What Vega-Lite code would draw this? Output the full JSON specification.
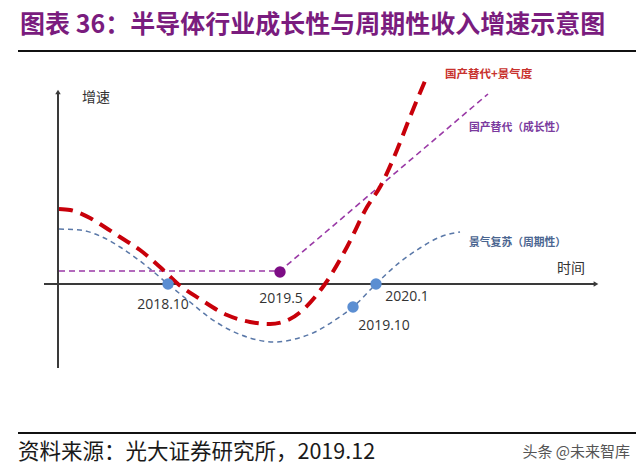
{
  "$schema": "https://vega.github.io/schema/vega-lite/v6.json",
  "width": 640,
  "height": 469,
  "padding": 0,
  "autosize": {"type": "none"},
  "background": "white",
  "config": {"view": {"stroke": null}, "font": "Noto Sans CJK SC"},
  "datasets": {
    "curves": [
      {"series": "景气复苏（周期性）", "t": 59, "g": 55},
      {"series": "景气复苏（周期性）", "t": 80, "g": 54},
      {"series": "景气复苏（周期性）", "t": 100, "g": 48},
      {"series": "景气复苏（周期性）", "t": 120, "g": 37},
      {"series": "景气复苏（周期性）", "t": 140, "g": 23},
      {"series": "景气复苏（周期性）", "t": 168, "g": 0},
      {"series": "景气复苏（周期性）", "t": 190, "g": -18},
      {"series": "景气复苏（周期性）", "t": 210, "g": -34},
      {"series": "景气复苏（周期性）", "t": 230, "g": -46},
      {"series": "景气复苏（周期性）", "t": 250, "g": -54},
      {"series": "景气复苏（周期性）", "t": 274, "g": -58},
      {"series": "景气复苏（周期性）", "t": 295, "g": -55},
      {"series": "景气复苏（周期性）", "t": 315, "g": -48},
      {"series": "景气复苏（周期性）", "t": 335, "g": -36},
      {"series": "景气复苏（周期性）", "t": 353, "g": -23},
      {"series": "景气复苏（周期性）", "t": 376, "g": 0},
      {"series": "景气复苏（周期性）", "t": 400, "g": 22},
      {"series": "景气复苏（周期性）", "t": 420, "g": 36},
      {"series": "景气复苏（周期性）", "t": 440, "g": 47},
      {"series": "景气复苏（周期性）", "t": 460, "g": 52},
      {"series": "国产替代+景气度", "t": 59, "g": 75},
      {"series": "国产替代+景气度", "t": 70, "g": 74},
      {"series": "国产替代+景气度", "t": 90, "g": 66},
      {"series": "国产替代+景气度", "t": 100, "g": 60},
      {"series": "国产替代+景气度", "t": 120, "g": 47},
      {"series": "国产替代+景气度", "t": 140, "g": 34},
      {"series": "国产替代+景气度", "t": 160, "g": 17},
      {"series": "国产替代+景气度", "t": 178, "g": 0},
      {"series": "国产替代+景气度", "t": 200, "g": -15},
      {"series": "国产替代+景气度", "t": 227, "g": -31},
      {"series": "国产替代+景气度", "t": 250, "g": -38},
      {"series": "国产替代+景气度", "t": 270, "g": -40},
      {"series": "国产替代+景气度", "t": 290, "g": -35},
      {"series": "国产替代+景气度", "t": 305, "g": -24},
      {"series": "国产替代+景气度", "t": 315, "g": -13},
      {"series": "国产替代+景气度", "t": 325, "g": 0},
      {"series": "国产替代+景气度", "t": 347, "g": 37},
      {"series": "国产替代+景气度", "t": 367, "g": 77},
      {"series": "国产替代+景气度", "t": 380, "g": 97},
      {"series": "国产替代+景气度", "t": 397, "g": 134},
      {"series": "国产替代+景气度", "t": 410, "g": 167},
      {"series": "国产替代+景气度", "t": 425, "g": 203},
      {"series": "国产替代（成长性）", "t": 59, "g": 13},
      {"series": "国产替代（成长性）", "t": 280, "g": 13},
      {"series": "国产替代（成长性）", "t": 488, "g": 190}
    ],
    "points": [
      {"series": "国产替代（成长性）", "t": 280, "g": 12},
      {"series": "景气复苏（周期性）", "t": 168, "g": 0},
      {"series": "景气复苏（周期性）", "t": 353, "g": -23},
      {"series": "景气复苏（周期性）", "t": 376, "g": 0}
    ],
    "frame": [
      {"kind": "axis", "t": 58, "g": -84, "t2": 58, "g2": 190},
      {"kind": "axis", "t": 44, "g": 0, "t2": 594, "g2": 0},
      {"kind": "sep", "t": 18, "g": 233, "t2": 636, "g2": 233},
      {"kind": "sep", "t": 18, "g": -149, "t2": 636, "g2": -149}
    ],
    "arrows": [
      {"dir": "up", "t": 58, "g": 192},
      {"dir": "right", "t": 596, "g": 0}
    ],
    "labels": [
      {"kind": "title", "text": "图表 36：半导体行业成长性与周期性收入增速示意图", "t": 20, "g": 259},
      {"kind": "source", "text": "资料来源：光大证券研究所，2019.12", "t": 18, "g": -169},
      {"kind": "mark", "text": "头条 @未来智库", "t": 630, "g": -168},
      {"kind": "axisname", "text": "增速", "t": 82, "g": 186},
      {"kind": "axisname", "text": "时间", "t": 557, "g": 15},
      {"kind": "date", "text": "2018.10", "t": 163, "g": -21},
      {"kind": "date", "text": "2019.5", "t": 281, "g": -15},
      {"kind": "date", "text": "2019.10", "t": 384, "g": -42},
      {"kind": "date", "text": "2020.1", "t": 407, "g": -13},
      {"kind": "red", "text": "国产替代+景气度", "t": 445, "g": 209},
      {"kind": "purple", "text": "国产替代（成长性）", "t": 469, "g": 156},
      {"kind": "blue", "text": "景气复苏（周期性）", "t": 469, "g": 41}
    ]
  },
  "encoding": {
    "x": {"field": "t", "type": "quantitative", "axis": null, "scale": {"domain": [0, 640], "nice": false, "zero": false}},
    "y": {"field": "g", "type": "quantitative", "axis": null, "scale": {"domain": [-185, 284], "nice": false, "zero": false}}
  },
  "layer": [
    {
      "data": {"name": "frame"},
      "transform": [{"filter": "datum.kind === 'axis'"}],
      "mark": {"type": "rule", "color": "#3a3a3a", "strokeWidth": 2},
      "encoding": {"x2": {"field": "t2"}, "y2": {"field": "g2"}}
    },
    {
      "data": {"name": "frame"},
      "transform": [{"filter": "datum.kind === 'sep'"}],
      "mark": {"type": "rule", "color": "#111111", "strokeWidth": 2},
      "encoding": {"x2": {"field": "t2"}, "y2": {"field": "g2"}}
    },
    {
      "data": {"name": "arrows"},
      "transform": [{"filter": "datum.dir === 'up'"}],
      "mark": {"type": "point", "shape": "triangle-up", "filled": true, "size": 30, "color": "#3a3a3a", "opacity": 1}
    },
    {
      "data": {"name": "arrows"},
      "transform": [{"filter": "datum.dir === 'right'"}],
      "mark": {"type": "point", "shape": "triangle-right", "filled": true, "size": 30, "color": "#3a3a3a", "opacity": 1}
    },
    {
      "data": {"name": "curves"},
      "transform": [{"filter": "datum.series === '国产替代（成长性）'"}],
      "mark": {"type": "line", "color": "#9A3AA6", "strokeWidth": 1.6, "strokeDash": [6, 4], "interpolate": "linear"}
    },
    {
      "data": {"name": "curves"},
      "transform": [{"filter": "datum.series === '景气复苏（周期性）'"}],
      "mark": {"type": "line", "color": "#5A78A8", "strokeWidth": 1.5, "strokeDash": [5, 4], "interpolate": "monotone"}
    },
    {
      "data": {"name": "curves"},
      "transform": [{"filter": "datum.series === '国产替代+景气度'"}],
      "mark": {"type": "line", "color": "#C8000A", "strokeWidth": 4, "strokeDash": [14, 8], "interpolate": "monotone"}
    },
    {
      "data": {"name": "points"},
      "transform": [{"filter": "datum.series === '国产替代（成长性）'"}],
      "mark": {"type": "circle", "size": 130, "color": "#7D0D85", "opacity": 1}
    },
    {
      "data": {"name": "points"},
      "transform": [{"filter": "datum.series === '景气复苏（周期性）'"}],
      "mark": {"type": "circle", "size": 130, "color": "#5B8ED2", "opacity": 1}
    },
    {
      "data": {"name": "labels"},
      "transform": [{"filter": "datum.kind === 'title'"}],
      "mark": {"type": "text", "align": "left", "baseline": "middle", "fontSize": 25, "fontWeight": "bold", "color": "#7A1C7E", "font": "Noto Sans CJK SC"},
      "encoding": {"text": {"field": "text"}}
    },
    {
      "data": {"name": "labels"},
      "transform": [{"filter": "datum.kind === 'source'"}],
      "mark": {"type": "text", "align": "left", "baseline": "middle", "fontSize": 21.5, "color": "#1a1a1a", "font": "Noto Sans CJK SC"},
      "encoding": {"text": {"field": "text"}}
    },
    {
      "data": {"name": "labels"},
      "transform": [{"filter": "datum.kind === 'mark'"}],
      "mark": {"type": "text", "align": "right", "baseline": "middle", "fontSize": 15, "color": "#555555", "font": "Noto Sans CJK SC"},
      "encoding": {"text": {"field": "text"}}
    },
    {
      "data": {"name": "labels"},
      "transform": [{"filter": "datum.kind === 'axisname'"}],
      "mark": {"type": "text", "align": "left", "baseline": "middle", "fontSize": 14, "color": "#333333", "font": "Noto Sans CJK SC"},
      "encoding": {"text": {"field": "text"}}
    },
    {
      "data": {"name": "labels"},
      "transform": [{"filter": "datum.kind === 'date'"}],
      "mark": {"type": "text", "align": "center", "baseline": "middle", "fontSize": 14, "color": "#333333", "font": "Open Sans"},
      "encoding": {"text": {"field": "text"}}
    },
    {
      "data": {"name": "labels"},
      "transform": [{"filter": "datum.kind === 'red'"}],
      "mark": {"type": "text", "align": "left", "baseline": "middle", "fontSize": 11.5, "fontWeight": "bold", "color": "#C8322E", "font": "Noto Sans CJK SC"},
      "encoding": {"text": {"field": "text"}}
    },
    {
      "data": {"name": "labels"},
      "transform": [{"filter": "datum.kind === 'purple'"}],
      "mark": {"type": "text", "align": "left", "baseline": "middle", "fontSize": 10.8, "fontWeight": "bold", "color": "#7A3A9E", "font": "Noto Sans CJK SC"},
      "encoding": {"text": {"field": "text"}}
    },
    {
      "data": {"name": "labels"},
      "transform": [{"filter": "datum.kind === 'blue'"}],
      "mark": {"type": "text", "align": "left", "baseline": "middle", "fontSize": 10.8, "fontWeight": "bold", "color": "#4A6590", "font": "Noto Sans CJK SC"},
      "encoding": {"text": {"field": "text"}}
    }
  ]
}
